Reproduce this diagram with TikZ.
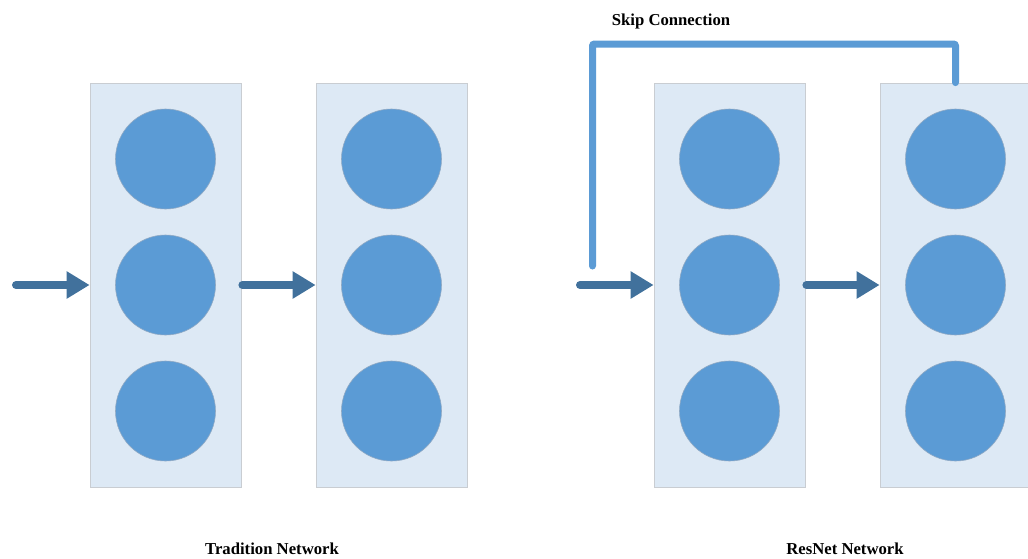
\documentclass[tikz,border=0pt]{standalone}
\usepackage{fontspec}
\setmainfont{Liberation Serif}
\usetikzlibrary{arrows.meta,calc}
\definecolor{boxfill}{HTML}{DDE9F5}
\definecolor{boxline}{HTML}{C9CDD2}
\definecolor{neuron}{HTML}{5B9BD5}
\definecolor{neuronline}{HTML}{8FA9C4}
\definecolor{arrowc}{HTML}{41719C}
\definecolor{skipc}{HTML}{5B9BD5}
\tikzset{
  layerbox/.style={draw=boxline, fill=boxfill, line width=0.8pt, minimum width=151pt, minimum height=404pt, inner sep=0pt},
  neuronnode/.style={circle, fill=neuron, draw=neuronline, line width=0.6pt, minimum size=100pt, inner sep=0pt},
  flow/.style={draw=arrowc, line width=8pt, line cap=round, -{Triangle[length=23pt,width=26pt]}},
  skipline/.style={draw=skipc, line width=7pt, line cap=round, rounded corners=2pt},
  lbl/.style={font=\bfseries\fontsize{16.7}{20}\selectfont, inner sep=0pt}
}
\begin{document}
\begin{tikzpicture}[x=1pt,y=-1pt]
\useasboundingbox (0,0) rectangle (1028,558);
% layers
\node[layerbox] (l1) at (165.5,285) {};
\node[layerbox] (l2) at (391.5,285) {};
\node[layerbox] (r1) at (729.5,285) {};
\node[layerbox] (r2) at (955.5,285) {};
% neurons
\foreach \b in {l1,l2,r1,r2}{
  \node[neuronnode] (\b a) at ($(\b.center)+(0,-126)$) {};
  \node[neuronnode] (\b b) at (\b.center) {};
  \node[neuronnode] (\b c) at ($(\b.center)+(0,126)$) {};
}
% input coordinates
\coordinate (inl) at (16,285);
\coordinate (inr) at (580,285);
% arrows
\draw[flow] (inl) -- (l1.west);
\draw[flow] ($(l1.east)+(1,0)$) -- (l2.west);
\draw[flow] (inr) -- (r1.west);
\draw[flow] ($(r1.east)+(1,0)$) -- (r2.west);
% skip connection
\coordinate (skipstart) at (592.5,266);
\coordinate (skiptop) at (592.5,44);
\draw[skipline] (skipstart) -- (skiptop) -| (r2.north);
% labels
\node[lbl] (skiplbl) at (671,21) {Skip Connection};
\node[lbl] (tradlbl) at (272,549) {Tradition Network};
\node[lbl] (reslbl) at (845,549) {ResNet Network};
\end{tikzpicture}
\end{document}
